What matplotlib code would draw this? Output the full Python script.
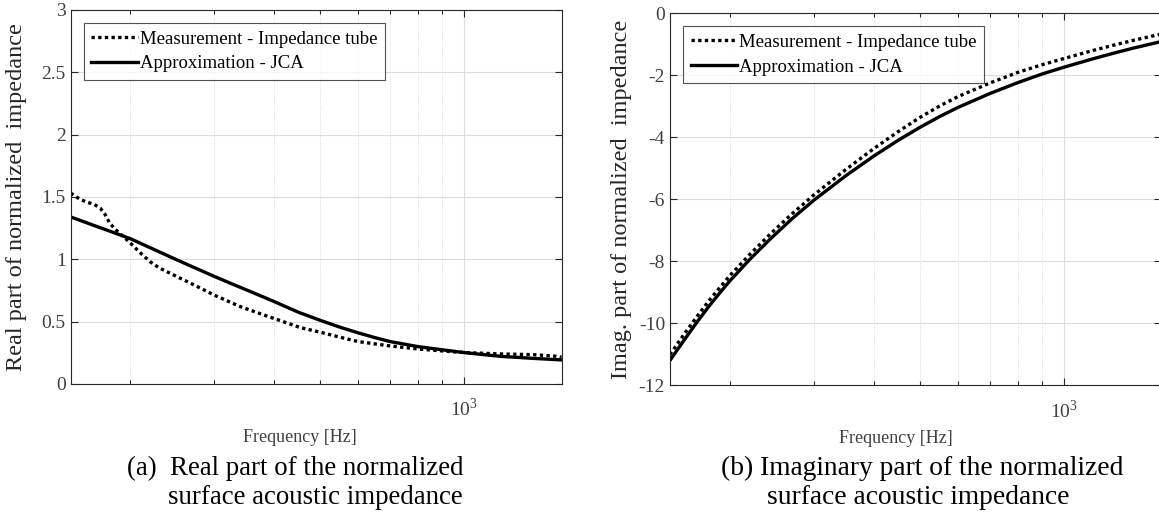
import numpy as np
import matplotlib

matplotlib.use("Agg")
import matplotlib.pyplot as plt
from matplotlib.ticker import FixedLocator, NullFormatter, FuncFormatter

plt.rcParams["font.family"] = ["Liberation Serif", "DejaVu Serif"]
plt.rcParams["mathtext.fontset"] = "custom"
plt.rcParams["mathtext.rm"] = "Liberation Serif"

# values, frequencies in Hz
freq_meas_re = [150, 157, 163, 168, 173, 177, 181, 186, 191, 200, 210, 220, 230, 250,
                270, 300, 340, 370, 400, 454, 500, 550, 600, 700, 800, 900, 1000,
                1190, 1400, 1560, 1600]
re_meas = [1.53, 1.48, 1.455, 1.44, 1.41, 1.36, 1.29, 1.24, 1.20, 1.13, 1.05, 0.98,
           0.93, 0.862, 0.80, 0.712, 0.62, 0.57, 0.525, 0.452, 0.415, 0.375, 0.34,
           0.305, 0.281, 0.265, 0.252, 0.241, 0.235, 0.222, 0.215]

freq_jca_re = [150, 160, 170, 180, 190, 200, 215, 230, 250, 270, 300, 330, 360, 400,
               450, 500, 550, 600, 650, 700, 800, 900, 1000, 1100, 1200, 1400, 1600]
re_jca = [1.339, 1.30, 1.263, 1.229, 1.196, 1.165, 1.110, 1.059, 0.996, 0.939, 0.862,
          0.795, 0.735, 0.661, 0.575, 0.51, 0.455, 0.41, 0.372, 0.34, 0.30, 0.274,
          0.252, 0.235, 0.221, 0.205, 0.193]

freq_im = [150, 160, 170, 180, 190, 200, 220, 244, 270, 300, 350, 400, 450, 500, 550,
           600, 700, 800, 900, 1000, 1150, 1269, 1400, 1600]
im_meas = [-11.01, -10.39, -9.83, -9.32, -8.88, -8.47, -7.79, -7.10, -6.47, -5.86,
           -5.04, -4.37, -3.82, -3.36, -2.99, -2.69, -2.25, -1.91, -1.66, -1.46,
           -1.20, -1.03, -0.87, -0.67]
im_jca = [-11.20, -10.58, -10.01, -9.50, -9.05, -8.64, -7.95, -7.26, -6.63, -6.03,
          -5.24, -4.61, -4.10, -3.68, -3.33, -3.04, -2.59, -2.24, -1.96, -1.74,
          -1.47, -1.29, -1.12, -0.91]

legend_labels = ["Measurement - Impedance tube", "Approximation - JCA"]
minor_ticks = [200, 300, 400, 500, 600, 700, 800, 900]

axis_col = "#262626"
tick_col = "#404040"


def style_axes(ax, ylim, yticks, ylabel):
    ax.set_xscale("log")
    ax.set_xlim(150, 1600)
    ax.set_ylim(*ylim)
    ax.set_yticks(yticks)
    ax.xaxis.set_major_locator(FixedLocator([1000]))
    ax.xaxis.set_minor_locator(FixedLocator(minor_ticks))
    ax.xaxis.set_minor_formatter(NullFormatter())
    ax.xaxis.set_major_formatter(FuncFormatter(lambda v, p: r"$10^3$"))
    ax.yaxis.set_major_formatter(FuncFormatter(lambda v, p: f"{v:g}"))
    ax.tick_params(which="both", direction="in", top=True, right=True,
                   colors=axis_col, labelcolor=tick_col, labelsize=14, width=0.8)
    ax.tick_params(which="major", length=5)
    ax.tick_params(which="minor", length=3)
    ax.tick_params(axis="x", pad=10)
    ax.grid(True, which="major", color="#dcdcdc", lw=0.8)
    ax.grid(True, which="minor", axis="x", color="#d0d0d0", lw=0.6, ls=":")
    for s in ax.spines.values():
        s.set_color(axis_col)
        s.set_linewidth(0.8)
    ax.set_ylabel(ylabel, fontsize=17.5, color=axis_col)
    ax.set_xlabel("Frequency [Hz]", fontsize=13, color=tick_col)


fig = plt.figure(figsize=(11.59, 5.23), dpi=100)
ax1 = fig.add_axes([0.061, 0.2658, 0.4235, 0.7155])
ax2 = fig.add_axes([0.578, 0.2633, 0.4241, 0.7113])

dots = (0, (1, 1))
ax1.plot(freq_meas_re, re_meas, color="black", lw=2.4, ls=dots, label=legend_labels[0])
ax1.plot(freq_jca_re, re_jca, color="black", lw=2.4, label=legend_labels[1])
style_axes(ax1, (0, 3), [0, 0.5, 1, 1.5, 2, 2.5, 3], "Real part of normalized  impedance")

ax2.plot(freq_im, im_meas, color="black", lw=2.4, ls=dots, label=legend_labels[0])
ax2.plot(freq_im, im_jca, color="black", lw=2.4, label=legend_labels[1])
style_axes(ax2, (-12, 0), [-12, -10, -8, -6, -4, -2, 0], "Imag. part of normalized  impedance")

for ax in (ax1, ax2):
    leg = ax.legend(loc="upper left", fontsize=13.5, frameon=True, fancybox=False,
                    edgecolor=axis_col, handlelength=2.5, handletextpad=0.1,
                    borderaxespad=0.7, borderpad=0.4, labelspacing=0.4)
    leg.get_frame().set_linewidth(0.8)

ax1.xaxis.set_label_coords(0.467, -0.12)
ax2.xaxis.set_label_coords(0.46, -0.12)
ax1.yaxis.set_label_coords(-0.09, 0.5)
ax2.yaxis.set_label_coords(-0.077, 0.5)

fig.text(295 / 1159, 1 - 468 / 523, "(a)  Real part of the normalized", ha="center",
         va="center", fontsize=19.4, color="black")
fig.text(315 / 1159, 1 - 498 / 523, "surface acoustic impedance", ha="center",
         va="center", fontsize=19.4, color="black")
fig.text(922 / 1159, 1 - 468 / 523, "(b) Imaginary part of the normalized", ha="center",
         va="center", fontsize=19.8, color="black")
fig.text(918 / 1159, 1 - 498 / 523, "surface acoustic impedance", ha="center",
         va="center", fontsize=19.8, color="black")

fig.savefig("out.png", dpi=100)
